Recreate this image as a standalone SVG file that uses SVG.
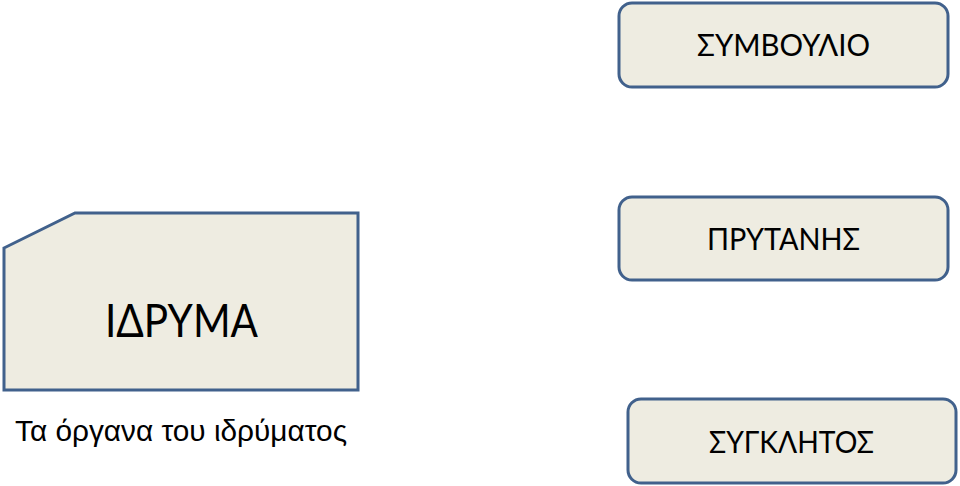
<svg xmlns="http://www.w3.org/2000/svg" width="960" height="486" viewBox="0 0 960 486">
<style>
.box{fill:#eeece1;stroke:#41618c;stroke-width:3}
.t{font-family:Lato,"Open Sans",sans-serif;font-weight:400;fill:#000;text-anchor:middle}
</style>
<rect width="960" height="486" fill="#fff"/>
<g id="idryma">
<polygon class="box" points="4,248 75,213 358,213 358,390 4,390"/>
<text class="t" x="181.5" y="337" font-size="46" textLength="153" lengthAdjust="spacingAndGlyphs">ΙΔΡΥΜΑ</text>
</g>
<g id="caption">
<text x="15" y="441" font-family="Liberation Sans,Arial,sans-serif" font-size="29.5" textLength="332" lengthAdjust="spacingAndGlyphs">Τα όργανα του ιδρύματος</text>
</g>
<g id="symvoulio">
<rect class="box" x="619" y="3" width="329" height="84" rx="13"/>
<text class="t" x="783.5" y="56" font-size="30.5" textLength="173" lengthAdjust="spacingAndGlyphs">ΣΥΜΒΟΥΛΙΟ</text>
</g>
<g id="prytanis">
<rect class="box" x="619" y="197" width="329" height="83" rx="13"/>
<text class="t" x="783.5" y="250" font-size="30.5" textLength="153" lengthAdjust="spacingAndGlyphs">ΠΡΥΤΑΝΗΣ</text>
</g>
<g id="synklitos">
<rect class="box" x="628" y="399" width="328" height="84" rx="13"/>
<text class="t" x="791.5" y="453" font-size="30.5" textLength="165" lengthAdjust="spacingAndGlyphs">ΣΥΓΚΛΗΤΟΣ</text>
</g>
<g id="connectors"></g>
</svg>
